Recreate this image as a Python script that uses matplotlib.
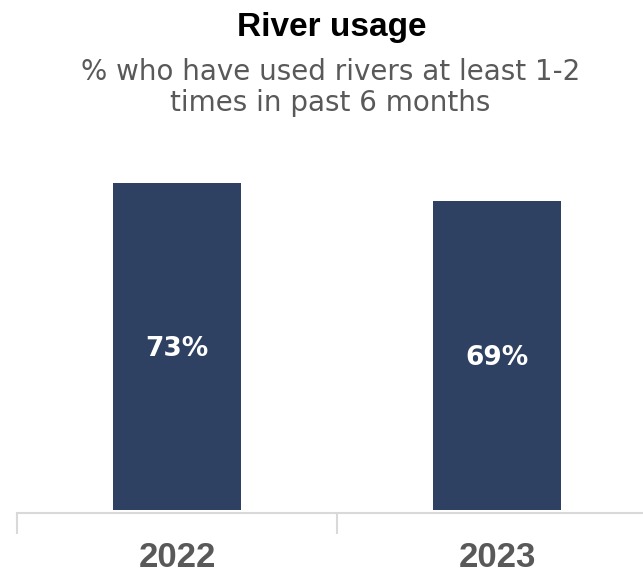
import matplotlib.pyplot as plt

# Dados
years = ["2022", "2023"]
usage = [73, 69]

bar_color = "#2E4163"
grey = "#595959"
line_grey = "#D9D9D9"

fig = plt.figure(figsize=(6.43, 5.74), dpi=100)
fig.patch.set_facecolor("white")

# eixo posicionado à mão para casar com o layout
ax = fig.add_axes([17 / 643, 64 / 574, 640 / 643, 360 / 574])
x = range(len(years))
bars = ax.bar(x, usage, width=0.40, color=bar_color)

ax.set_xlim(-0.5, 1.5)
ax.set_ylim(0, 80.4)

# rótulos de valor no meio das barras
for bar, v in zip(bars, usage):
    ax.text(bar.get_x() + bar.get_width() / 2, v / 2 - 0.6, f"{v}%",
            ha="center", va="center", color="white", fontsize=19,
            fontweight="bold", family="DejaVu Sans")

for side in ["top", "right", "left"]:
    ax.spines[side].set_visible(False)
ax.spines["bottom"].set_color(line_grey)
ax.spines["bottom"].set_linewidth(1.5)
ax.spines["bottom"].set_position(("outward", 2))

ax.set_yticks([])
ax.set_xticks(list(x))
ax.set_xticklabels(years, fontsize=25, fontweight="bold", color=grey,
                   family="Liberation Sans")
ax.tick_params(axis="x", which="major", length=0, pad=20)
ax.set_xticks([-0.5, 0.5, 1.5], minor=True)
ax.tick_params(axis="x", which="minor", length=15, width=1.5, color=line_grey)

# título e subtítulo
fig.text(0.516, 0.952, "River usage", ha="center", va="center", fontsize=24,
         fontweight="bold", color="black", family="Liberation Sans")
fig.text(0.514, 0.848, "% who have used rivers at least 1-2\ntimes in past 6 months",
         ha="center", va="center", fontsize=20, color=grey,
         family="DejaVu Sans", linespacing=1.15)

plt.savefig("out.png", dpi=100)
